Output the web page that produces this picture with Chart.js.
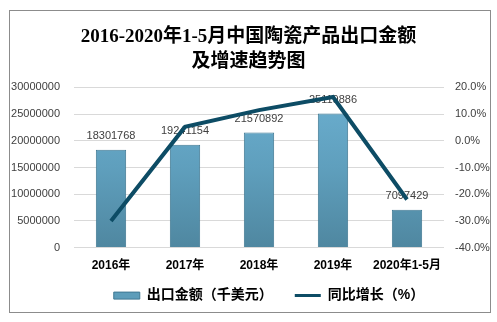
<!DOCTYPE html>
<html>
<head>
<meta charset="utf-8">
<script src="https://cdn.jsdelivr.net/npm/chart.js@4"></script>
<style>
html,body{margin:0;padding:0;background:#fff;}
#wrap{width:497px;height:322px;position:relative;}
</style>
</head>
<body>
<div id="wrap"><canvas id="c" width="497" height="322"></canvas></div>
<script>
const titleLines = ['2016-2020年1-5月中国陶瓷产品出口金额', '及增速趋势图'];
const categories = ['2016年', '2017年', '2018年', '2019年', '2020年1-5月'];
const exportValues = [18301768, 19241154, 21570892, 25119886, 7097429];
const growthRates = [-30.0, 5.2, 11.5, 16.4, -22.0];
const barLabel = '出口金额（千美元）';
const lineLabel = '同比增长（%）';
const leftTicks = [0, 5000000, 10000000, 15000000, 20000000, 25000000, 30000000];
const rightTicks = [-40, -30, -20, -10, 0, 10, 20];

const sansFont = "'Liberation Sans', 'Noto Sans CJK SC', sans-serif";
const titleFont = "'Liberation Serif', 'Noto Sans CJK SC', serif";

const borderPlugin = {
  id: 'outerBorder',
  beforeDraw(chart) {
    const ctx = chart.ctx;
    ctx.save();
    ctx.fillStyle = '#ffffff';
    ctx.fillRect(0, 0, chart.width, chart.height);
    ctx.strokeStyle = '#8c8c8c';
    ctx.lineWidth = 1;
    ctx.strokeRect(9.5, 10.5, 481, 302);
    ctx.restore();
  }
};

// place the legend row at a fixed height below the plot
const legendPlace = {
  id: 'legendPlace',
  afterLayout(chart) {
    const l = chart.legend;
    if (!l) return;
    const pad = l.options.labels.padding;
    const itemH = l.options.labels.font.size * 1.2;
    const top = 297 - pad - itemH / 2;
    l.top = top;
    l.bottom = top + pad * 2 + itemH;
    l.height = l.bottom - l.top;
    l.left += 10;
    l.right += 10;
  }
};

const labelPlugin = {
  id: 'barLabels',
  afterDatasetDraw(chart, args) {
    if (args.index !== 0) return;
    const ctx = chart.ctx;
    const meta = chart.getDatasetMeta(0);
    ctx.save();
    ctx.font = "11px " + sansFont;
    ctx.fillStyle = '#404040';
    ctx.textAlign = 'center';
    ctx.textBaseline = 'bottom';
    meta.data.forEach((el, i) => {
      ctx.fillText(String(exportValues[i]), el.x, el.y - 8);
    });
    ctx.restore();
  }
};

function barGradient(context) {
  const chart = context.chart;
  const area = chart.chartArea;
  if (!area) return '#5d9dba';
  const g = chart.ctx.createLinearGradient(0, area.top, 0, area.bottom);
  g.addColorStop(0, '#6cb0d1');
  g.addColorStop(0.5, '#5f9fbd');
  g.addColorStop(1, '#4f87a0');
  return g;
}

new Chart(document.getElementById('c'), {
  type: 'bar',
  data: {
    labels: categories,
    datasets: [
      {
        type: 'bar',
        label: barLabel,
        data: exportValues,
        yAxisID: 'y',
        backgroundColor: barGradient,
        borderColor: '#3f7892',
        borderWidth: 1,
        categoryPercentage: 1,
        barPercentage: 0.41,
        order: 2
      },
      {
        type: 'line',
        label: lineLabel,
        data: growthRates,
        yAxisID: 'y1',
        borderColor: '#0d4c65',
        backgroundColor: '#0d4c65',
        borderWidth: 4,
        pointRadius: 0,
        tension: 0,
        order: 1
      }
    ]
  },
  options: {
    responsive: false,
    animation: false,
    layout: { padding: { top: 12, left: 0, right: 0, bottom: 12 } },
    plugins: {
      title: {
        display: true,
        text: titleLines,
        color: '#000000',
        font: { family: titleFont, size: 19, weight: 'bold', lineHeight: 1.3 },
        padding: { top: 13, bottom: 13 }
      },
      legend: {
        position: 'bottom',
        fullSize: false,
        maxHeight: 26,
        labels: {
          color: '#000000',
          font: { family: sansFont, size: 14, weight: 'bold' },
          usePointStyle: true,
          pointStyleWidth: 26,
          boxHeight: 7,
          padding: 22,
          sort: (a, b) => a.datasetIndex - b.datasetIndex,
          generateLabels(chart) {
            const items = Chart.defaults.plugins.legend.labels.generateLabels(chart);
            items.forEach((it) => {
              if (it.datasetIndex === 0) {
                it.pointStyle = 'rect';
                it.fillStyle = '#5d9dba';
                it.strokeStyle = '#3f7892';
                it.lineWidth = 1;
              } else {
                it.pointStyle = 'line';
                it.strokeStyle = '#0d4c65';
                it.lineWidth = 3;
              }
            });
            return items;
          }
        }
      },
      tooltip: { enabled: false }
    },
    scales: {
      x: {
        grid: { display: false, drawTicks: false },
        border: { display: false },
        ticks: {
          color: '#000000',
          font: { family: sansFont, size: 12, weight: 'bold' },
          padding: 11,
          maxRotation: 0,
          autoSkip: false
        }
      },
      y: {
        position: 'left',
        min: 0,
        max: 30000000,
        afterBuildTicks(scale) { scale.ticks = leftTicks.map(v => ({ value: v })); },
        afterFit(scale) { scale.width = 74; },
        grid: { color: '#d9d9d9', drawTicks: false },
        border: { display: false },
        ticks: {
          color: '#404040',
          font: { family: sansFont, size: 11 },
          padding: 14,
          callback: v => String(v)
        }
      },
      y1: {
        position: 'right',
        min: -40,
        max: 20,
        afterBuildTicks(scale) { scale.ticks = rightTicks.map(v => ({ value: v })); },
        afterFit(scale) { scale.width = 53; },
        grid: { drawOnChartArea: false, drawTicks: false },
        border: { display: false },
        ticks: {
          color: '#404040',
          font: { family: sansFont, size: 11 },
          padding: 11,
          callback: v => Number(v).toFixed(1) + '%'
        }
      }
    }
  },
  plugins: [borderPlugin, legendPlace, labelPlugin]
});
</script>
</body>
</html>
